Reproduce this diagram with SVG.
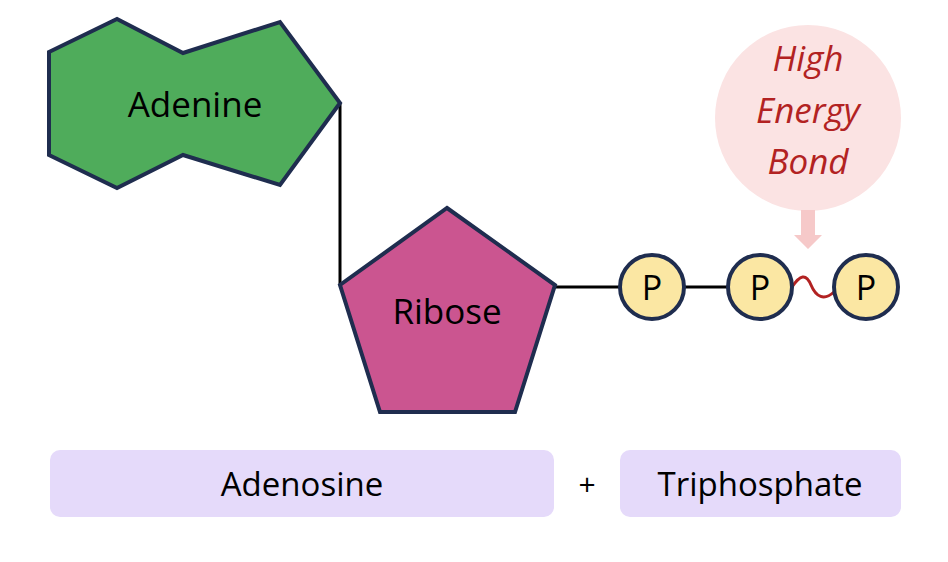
<svg xmlns="http://www.w3.org/2000/svg" width="948" height="562" viewBox="0 0 948 562">
<style>
text{font-family:"Open Sans","Liberation Sans",sans-serif;fill:#000}
.shape{stroke:#1f2d4f;stroke-width:4;stroke-linejoin:miter}
.p{fill:#fbe7a3;stroke:#1f2d4f;stroke-width:4}
.lbl{fill:#e5dafa}
.ln{stroke:#000;stroke-width:3;fill:none}
</style>
<rect width="948" height="562" fill="#fff"/>
<g id="connectors">
<polyline class="ln" points="340,103 340,285"/>
<line class="ln" x1="555" y1="287" x2="620" y2="287"/>
<line class="ln" x1="684" y1="287" x2="728" y2="287"/>
<path d="M792,287 C800,275 806,273 811,285 S824,301 834,292" stroke="#b22222" stroke-width="3" fill="none"/>
</g>
<g id="adenine">
<polygon class="shape" fill="#4fac5b" points="49,52 117,19 183,53 280,22 340,103 280,185 183,155 117,188 49,155"/>
<text x="195" y="117" font-size="35" text-anchor="middle">Adenine</text>
</g>
<g id="ribose">
<polygon class="shape" fill="#cb5590" points="447,208 555,285 515,412 380,412 340,285"/>
<text x="447" y="324" font-size="35" text-anchor="middle">Ribose</text>
</g>
<g id="p1"><circle class="p" cx="652" cy="287" r="32"/><text x="652" y="300" font-size="34" text-anchor="middle">P</text></g>
<g id="p2"><circle class="p" cx="760" cy="287" r="32"/><text x="760" y="300" font-size="34" text-anchor="middle">P</text></g>
<g id="p3"><circle class="p" cx="866" cy="287" r="32"/><text x="866" y="300" font-size="34" text-anchor="middle">P</text></g>
<g id="bond-callout">
<circle cx="808" cy="118" r="93" fill="#fbe3e3"/>
<polygon points="801,210 815,210 815,235 822,235 808,249 794,235 801,235" fill="#f6c9c9"/>
<g font-size="35" font-style="italic" text-anchor="middle">
<text x="808" y="71" style="fill:#b22222">High</text>
<text x="808" y="123" style="fill:#b22222">Energy</text>
<text x="808" y="174" style="fill:#b22222">Bond</text>
</g>
</g>
<g id="adenosine"><rect class="lbl" x="50" y="450" width="504" height="67" rx="10"/><text x="302" y="496" font-size="33" text-anchor="middle">Adenosine</text></g>
<text x="587" y="495" font-size="30" text-anchor="middle">+</text>
<g id="triphosphate"><rect class="lbl" x="620" y="450" width="281" height="67" rx="10"/><text x="760" y="496" font-size="33" text-anchor="middle">Triphosphate</text></g>
</svg>
